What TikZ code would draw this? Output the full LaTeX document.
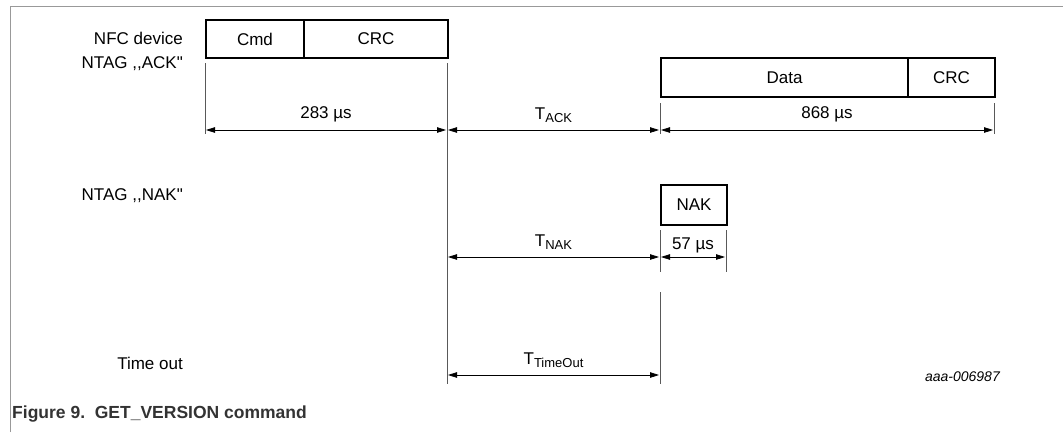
\documentclass[tikz,border=0pt]{standalone}
\usepackage{fontspec}
\setmainfont{Liberation Sans}[Ligatures=TeXOff]
\usetikzlibrary{arrows.meta}
\newcommand{\sub}[1]{\raisebox{-0.32ex}{\fontsize{13}{15}\selectfont #1}}
\begin{document}
\begin{tikzpicture}[x=1pt,y=-1pt,
  seg/.style={draw=black,line width=2pt,minimum height=38pt,inner sep=0pt,anchor=north west,font=\fontsize{17}{20}\selectfont},
  tick/.style={draw=black!65,line width=0.9pt},
  dim/.style={draw=black,line width=0.8pt,{Triangle[length=9pt,width=5.5pt]}-{Triangle[length=9pt,width=5.5pt]}},
  lbl/.style={font=\fontsize{17}{20}\selectfont,inner sep=0pt},
  rowlbl/.style={lbl,anchor=east},
  frame/.style={draw=black!40,line width=1pt}]
\useasboundingbox (0,0) rectangle (1063,432);
% frame
\coordinate (f1) at (10,432);
\coordinate (f2) at (10,6);
\coordinate (f3) at (1063,6);
\draw[frame] (f1) -- (f2) -- (f3);
% row labels
\node[rowlbl] (lnfc) at (183,38) {NFC device};
\node[rowlbl] (lack) at (183,64) {NTAG ,,ACK"};
\node[rowlbl] (lnak) at (183,196) {NTAG ,,NAK"};
\node[rowlbl] (lto) at (183,363) {Time out};
% frames
\node[seg,minimum width=98pt] (cmd) at (205,19) {Cmd};
\node[seg,minimum width=144pt] (crc) at (303,19) {CRC};
\node[seg,minimum width=247pt,minimum height=39pt] (data) at (660,57) {Data};
\node[seg,minimum width=87pt,minimum height=39pt] (dcrc) at (907,57) {CRC};
\node[seg,minimum width=66pt,minimum height=40pt] (nak) at (660,184) {NAK};
% tick coordinates
\coordinate (a0) at (205,63);  \coordinate (a1) at (205,134);
\coordinate (b0) at (447,63);  \coordinate (b1) at (447,384);
\coordinate (c0) at (660,103); \coordinate (c1) at (660,134);
\coordinate (d0) at (994,103); \coordinate (d1) at (994,134);
\coordinate (e0) at (660,230); \coordinate (e1) at (660,272);
\coordinate (g0) at (726,230); \coordinate (g1) at (726,272);
\coordinate (h0) at (660,292); \coordinate (h1) at (660,384);
\foreach \p/\q in {a0/a1,b0/b1,c0/c1,d0/d1,e0/e1,g0/g1,h0/h1}
  \draw[tick] (\p) -- (\q);
% dimension arrows
\coordinate (r1a) at (206,130); \coordinate (r1b) at (446,130);
\coordinate (r1c) at (448,130); \coordinate (r1d) at (659,130);
\coordinate (r1e) at (661,130); \coordinate (r1f) at (993,130);
\coordinate (r2a) at (448,257); \coordinate (r2b) at (659,257);
\coordinate (r2c) at (661,257); \coordinate (r2d) at (725,257);
\coordinate (r3a) at (448,375); \coordinate (r3b) at (659,375);
\draw[dim] (r1a) -- (r1b) node[lbl,midway,above=8pt] (t283) {283 µs};
\draw[dim] (r1c) -- (r1d) node[lbl,midway,above=7pt] (tack) {T\sub{ACK}};
\draw[dim] (r1e) -- (r1f) node[lbl,midway,above=8pt] (t868) {868 µs};
\draw[dim] (r2a) -- (r2b) node[lbl,midway,above=7pt] (tnak) {T\sub{NAK}};
\draw[dim] (r2c) -- (r2d) node[lbl,midway,above=4pt] (t57) {57 µs};
\draw[dim] (r3a) -- (r3b) node[lbl,midway,above=7pt] (tto) {T\sub{TimeOut}};
% id and caption
\node[lbl,anchor=east,font=\fontsize{14}{16}\selectfont\itshape] (id) at (1000,377) {aaa-006987};
\node[anchor=west,inner sep=0pt,text=black!80,font=\fontsize{17.5}{20}\selectfont\bfseries] (cap) at (12,414) {Figure 9.\ \ GET\_VERSION command};
\end{tikzpicture}
\end{document}
